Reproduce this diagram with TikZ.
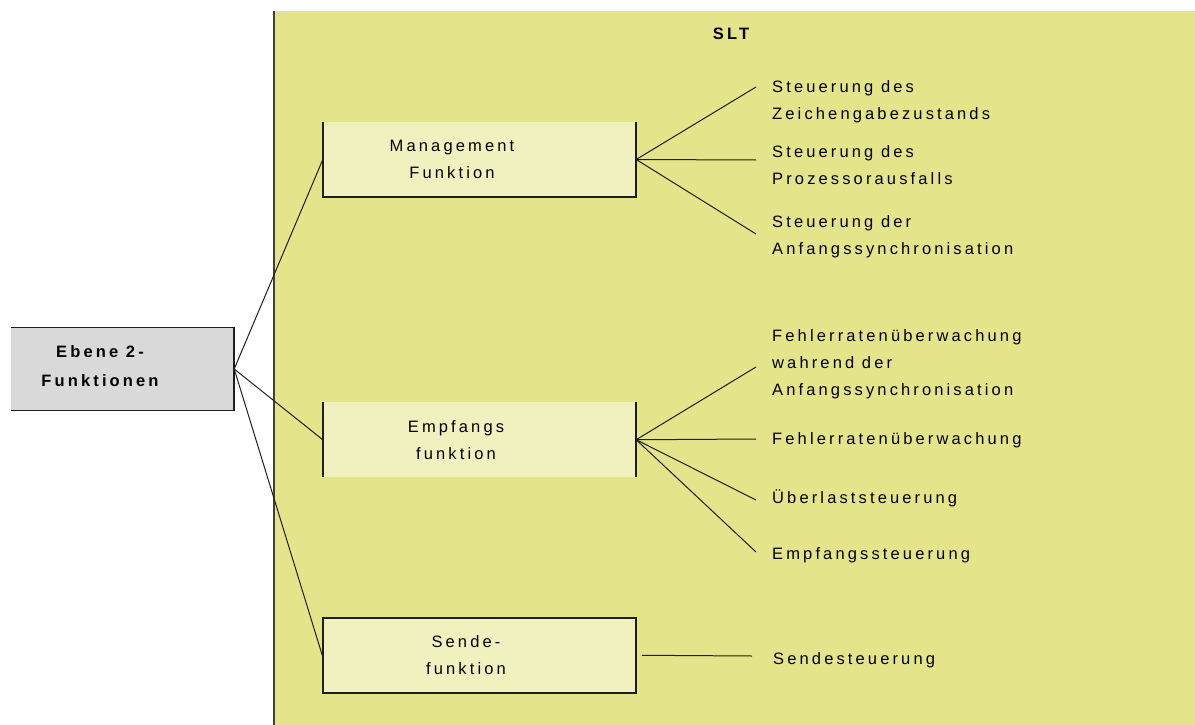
\documentclass[tikz,border=0pt]{standalone}
\usepackage{fontspec}
\setmainfont[LetterSpace=19]{Liberation Sans}
\definecolor{sltyellow}{RGB}{228,228,139}
\definecolor{boxfill}{RGB}{241,241,191}
\definecolor{levelgray}{RGB}{217,217,217}
\definecolor{ink}{RGB}{30,30,30}
\newcommand\leaffont{\fontsize{16.5pt}{27pt}\selectfont}
\newcommand\levelfont{\bfseries\fontsize{16.5pt}{29pt}\selectfont}

\tikzset{
  fnbox/.style={fill=boxfill, minimum width=313pt, minimum height=75pt, inner sep=0pt},
  rim/.style={draw=ink, line width=1.5pt},
  link/.style={draw=ink, line width=1pt},
  boxtext/.style={font=\leaffont, align=center, inner sep=0pt},
  leaf/.style={font=\leaffont, align=left, inner sep=0pt},
}

\begin{document}
\begin{tikzpicture}[x=1pt, y=-1pt]
\useasboundingbox (0,0) rectangle (1195,725);

% SLT area with its left edge
\node[fill=sltyellow, minimum width=921pt, minimum height=714pt, inner sep=0pt,
      anchor=north west] (slt) at (274,11) {};
\draw[draw=black!75, line width=1.8pt] (slt.north west) -- (slt.south west);
\node[font=\levelfont, inner sep=0pt] (slttitle) at (731,34) {SLT};

% level-2 root box (open on the left)
\node[fill=levelgray, minimum width=223pt, minimum height=83pt, inner sep=0pt] (eb) at (122.5,369) {};
\draw[rim] (eb.north west) -- (eb.north east) -- (eb.south east) -- (eb.south west);
\node[font=\levelfont, align=center, inner sep=0pt] (ebtext) at (100,366.5) {Ebene 2-\\Funktionen};

% function boxes
\node[fnbox] (mg) at (479.5,159.5) {};
\draw[rim] (mg.north west) -- (mg.south west) -- (mg.south east) -- (mg.north east);
\node[boxtext] (mgtext) at (452,159.5) {Management\\Funktion};

\node[fnbox] (ef) at (479.5,439.75) {};
\draw[rim] (ef.north west) -- (ef.south west);
\draw[rim] (ef.north east) -- (ef.south east);
\node[boxtext] (eftext) at (456,440.5) {Empfangs\\funktion};

\node[fnbox, rim] (sd) at (479.5,655.25) {};
\node[boxtext] (sdtext) at (466,655.5) {Sende-\\funktion};

% root to function boxes
\draw[link] (eb.east) -- (mg.west);
\draw[link] (eb.east) -- (ef.west);
\draw[link] (eb.east) -- (sd.west);

% fan ends
\coordinate (m1) at (756,87);
\coordinate (m2) at (756,160);
\coordinate (m3) at (756,234);
\coordinate (e1) at (756,367);
\coordinate (e2) at (756,439);
\coordinate (e3) at (756,500);
\coordinate (e4) at (756,552);
\coordinate (s1) at (752,656);

\draw[link] (mg.east) -- (m1);
\draw[link] (mg.east) -- (m2);
\draw[link] (mg.east) -- (m3);
\draw[link] (ef.east) -- (e1);
\draw[link] (ef.east) -- (e2);
\draw[link] (ef.east) -- (e3);
\draw[link] (ef.east) -- (e4);
\draw[link, shorten <=5pt] (sd.east) -- (s1);

% sub-function labels
\node[leaf, anchor=north west] (l1) at (772,80) {Steuerung des\\Zeichengabezustands};
\node[leaf, anchor=north west] (l2) at (772,145) {Steuerung des\\Prozessorausfalls};
\node[leaf, anchor=north west] (l3) at (772,215) {Steuerung der\\Anfangssynchronisation};
\node[leaf, anchor=north west] (l4) at (772,329) {Fehlerratenüberwachung\\wahrend der\\Anfangssynchronisation};
\node[leaf, anchor=base west] (l5) at (772,444) {Fehlerratenüberwachung};
\node[leaf, anchor=base west] (l6) at (772,503) {Überlaststeuerung};
\node[leaf, anchor=base west] (l7) at (772,559) {Empfangssteuerung};
\node[leaf, anchor=base west] (l8) at (773,664) {Sendesteuerung};
\end{tikzpicture}
\end{document}
